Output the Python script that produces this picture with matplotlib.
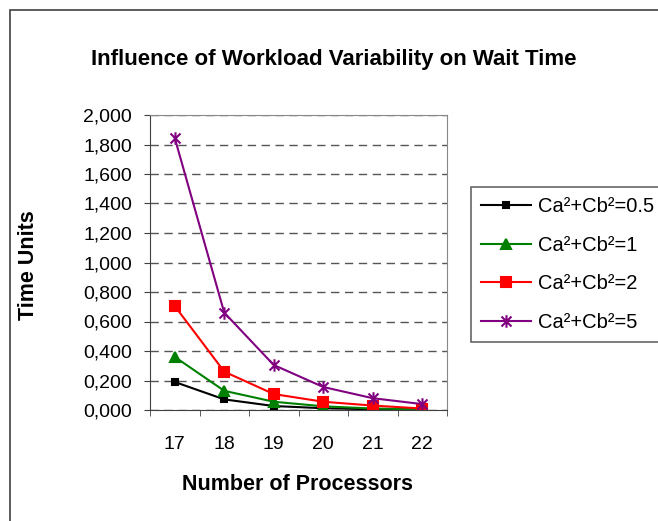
import numpy as np
import matplotlib.pyplot as plt
from matplotlib.patches import Rectangle
from matplotlib.path import Path
from matplotlib.ticker import FuncFormatter

plt.rcParams['font.family'] = ['Liberation Sans', 'DejaVu Sans']

# adatok
processors = [17, 18, 19, 20, 21, 22]
labels = ['Ca²+Cb²=0.5', 'Ca²+Cb²=1', 'Ca²+Cb²=2', 'Ca²+Cb²=5']
wait_05 = [0.190, 0.072, 0.027, 0.012, 0.005, 0.002]
wait_1 = [0.360, 0.130, 0.056, 0.025, 0.010, 0.005]
wait_2 = [0.705, 0.260, 0.108, 0.056, 0.030, 0.010]
wait_5 = [1.844, 0.660, 0.305, 0.156, 0.080, 0.040]

# Excel-szerű csillag jelölő: függőleges vonal + X
star = Path([(0, -1), (0, 1), (-0.8, -0.8), (0.8, 0.8), (-0.8, 0.8), (0.8, -0.8)],
            [Path.MOVETO, Path.LINETO, Path.MOVETO, Path.LINETO, Path.MOVETO, Path.LINETO])

fig = plt.figure(figsize=(6.58, 5.21), dpi=100)
fig.patches.append(Rectangle((10 / 658, -0.1), 2, 1 - 10 / 521 + 0.1, transform=fig.transFigure,
                             fill=False, edgecolor='#404040', linewidth=1.2))

ax = fig.add_axes([150 / 658, 1 - 410 / 521, 297 / 658, 295 / 521])
x = np.arange(len(processors))
series = [
    (wait_05, 'black', 's', 4.5),
    (wait_1, 'green', '^', 6.5),
    (wait_2, 'red', 's', 7),
    (wait_5, 'purple', star, 9),
]
for (vals, col, mk, ms), lab in zip(series, labels):
    ax.plot(x, vals, color=col, marker=mk, markersize=ms, linewidth=1.5,
            markeredgecolor=col, markerfacecolor=col, markeredgewidth=1.5, label=lab)

ax.set_xlim(-0.5, len(processors) - 0.5)
ax.set_ylim(0, 2.0)
ax.set_yticks(np.arange(0, 2.01, 0.2))
ax.yaxis.set_major_formatter(FuncFormatter(lambda v, p: f'{v:.3f}'.replace('.', ',')))
ax.set_xticks(x)
ax.set_xticklabels([str(p) for p in processors])
ax.set_xticks(np.arange(-0.5, len(processors), 1), minor=True)
ax.tick_params(axis='x', which='major', length=0, pad=19, labelsize=14)
ax.tick_params(axis='x', which='minor', length=4, direction='out', color='#404040')
ax.tick_params(axis='y', length=4, direction='out', color='#404040', labelsize=14, pad=9)
ax.grid(axis='y', linestyle=(0, (6, 4)), color='#555555', linewidth=1)
for s in ax.spines.values():
    s.set_color('#888888')
ax.spines['left'].set_color('#404040')
ax.spines['bottom'].set_color('#404040')

fig.text(334 / 658, 1 - 60 / 521, 'Influence of Workload Variability on Wait Time',
         ha='center', va='center', fontsize=16, fontweight='bold')
fig.text(28 / 658, 1 - 265 / 521, 'Time Units', ha='center', va='center',
         rotation=90, fontsize=15.5, fontweight='bold')
fig.text(297 / 658, 1 - 484 / 521, 'Number of Processors', ha='center', va='center',
         fontsize=15.5, fontweight='bold')

leg = fig.legend(loc='upper left', bbox_to_anchor=(471 / 658, 1 - 187 / 521),
                 borderaxespad=0, fontsize=14.5, frameon=True, fancybox=False,
                 handlelength=2.5, borderpad=0.5, labelspacing=0.97, handletextpad=0.35)
leg.get_frame().set_edgecolor('#404040')
leg.get_frame().set_linewidth(1.2)

fig.savefig('out.png', dpi=100)
